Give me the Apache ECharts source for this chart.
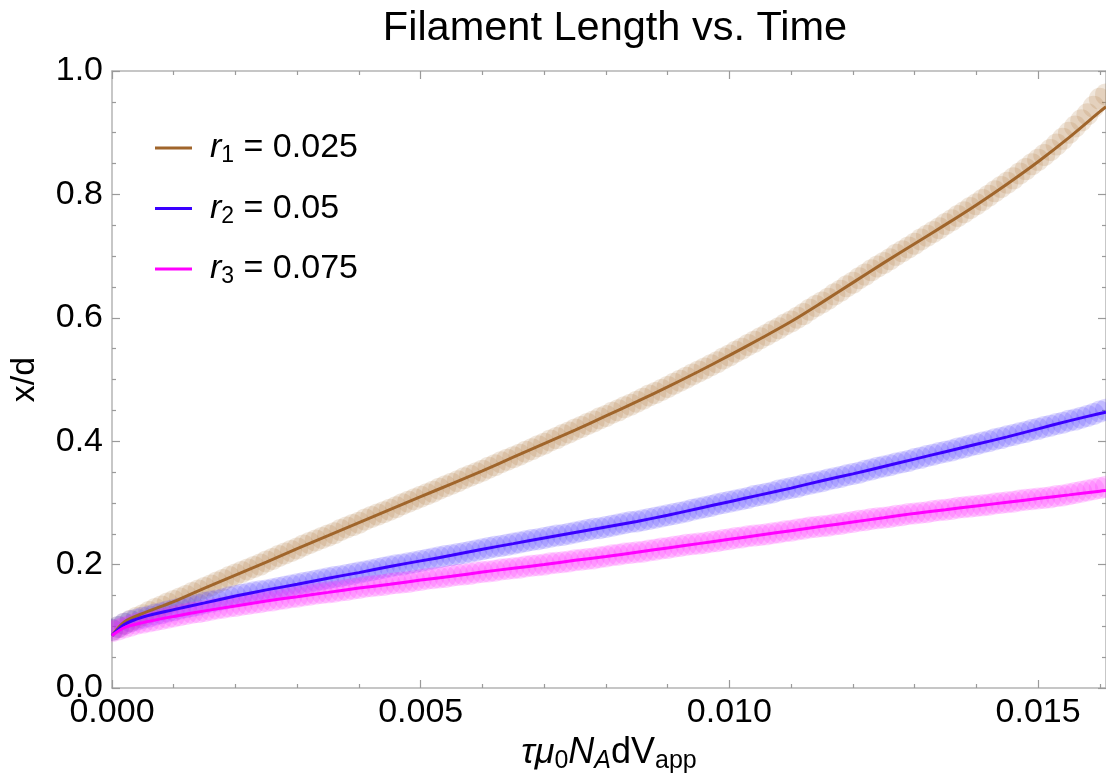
<!DOCTYPE html>
<html>
<head>
<meta charset="utf-8">
<title>Filament Length vs. Time</title>
<script src="https://cdn.jsdelivr.net/npm/echarts@6/dist/echarts.min.js"></script>
<style>
  html, body { margin: 0; padding: 0; background: #fff; }
  #chart { width: 1106px; height: 780px; }
</style>
</head>
<body>
<div id="chart"></div>
<script>
// Sampling step of the measured points (dimensionless time)
const sampleStep = 0.0001;

// Measured filament length x/d for each radius (one value per sample, 10 per row)
const r1Points = [
  0.094, 0.099, 0.104, 0.109, 0.114, 0.118, 0.123, 0.128, 0.132, 0.137,
  0.141, 0.145, 0.149, 0.154, 0.158, 0.162, 0.166, 0.171, 0.175, 0.180,
  0.184, 0.188, 0.192, 0.196, 0.200, 0.205, 0.209, 0.214, 0.218, 0.222,
  0.226, 0.231, 0.235, 0.239, 0.243, 0.247, 0.251, 0.256, 0.260, 0.264,
  0.268, 0.273, 0.277, 0.281, 0.285, 0.289, 0.293, 0.298, 0.302, 0.306,
  0.310, 0.314, 0.318, 0.323, 0.327, 0.331, 0.335, 0.340, 0.344, 0.348,
  0.352, 0.357, 0.361, 0.366, 0.370, 0.374, 0.378, 0.383, 0.387, 0.392,
  0.396, 0.401, 0.405, 0.410, 0.414, 0.419, 0.423, 0.428, 0.432, 0.437,
  0.441, 0.446, 0.450, 0.455, 0.459, 0.464, 0.469, 0.474, 0.478, 0.483,
  0.488, 0.493, 0.498, 0.503, 0.508, 0.513, 0.518, 0.523, 0.528, 0.534,
  0.539, 0.545, 0.550, 0.556, 0.561, 0.567, 0.572, 0.578, 0.583, 0.589,
  0.594, 0.600, 0.606, 0.613, 0.619, 0.625, 0.631, 0.638, 0.644, 0.651,
  0.657, 0.664, 0.670, 0.677, 0.683, 0.689, 0.695, 0.702, 0.708, 0.714,
  0.720, 0.727, 0.733, 0.739, 0.745, 0.752, 0.758, 0.765, 0.771, 0.778,
  0.784, 0.791, 0.798, 0.805, 0.812, 0.819, 0.826, 0.834, 0.841, 0.849,
  0.856, 0.864, 0.872, 0.881, 0.890, 0.900, 0.910, 0.920, 0.930, 0.942,
  0.955, 0.962
];
const r2Points = [
  0.094, 0.099, 0.104, 0.108, 0.111, 0.114, 0.116, 0.119, 0.121, 0.124,
  0.126, 0.129, 0.131, 0.133, 0.135, 0.138, 0.140, 0.142, 0.144, 0.147,
  0.149, 0.151, 0.153, 0.155, 0.157, 0.158, 0.160, 0.162, 0.164, 0.166,
  0.168, 0.170, 0.172, 0.174, 0.176, 0.178, 0.180, 0.181, 0.183, 0.185,
  0.187, 0.189, 0.191, 0.193, 0.195, 0.197, 0.199, 0.200, 0.202, 0.204,
  0.206, 0.208, 0.210, 0.212, 0.214, 0.215, 0.217, 0.219, 0.221, 0.223,
  0.225, 0.227, 0.229, 0.230, 0.232, 0.234, 0.236, 0.238, 0.240, 0.241,
  0.243, 0.245, 0.247, 0.248, 0.250, 0.252, 0.254, 0.256, 0.258, 0.259,
  0.261, 0.263, 0.265, 0.267, 0.269, 0.270, 0.272, 0.274, 0.276, 0.278,
  0.280, 0.282, 0.284, 0.286, 0.289, 0.291, 0.293, 0.295, 0.298, 0.300,
  0.302, 0.304, 0.306, 0.308, 0.311, 0.313, 0.315, 0.317, 0.320, 0.322,
  0.324, 0.326, 0.329, 0.331, 0.333, 0.335, 0.338, 0.340, 0.342, 0.345,
  0.347, 0.349, 0.352, 0.354, 0.357, 0.359, 0.361, 0.364, 0.366, 0.368,
  0.371, 0.373, 0.376, 0.378, 0.381, 0.383, 0.385, 0.388, 0.390, 0.393,
  0.395, 0.398, 0.400, 0.403, 0.405, 0.408, 0.410, 0.413, 0.415, 0.418,
  0.420, 0.423, 0.425, 0.428, 0.430, 0.433, 0.435, 0.438, 0.441, 0.444,
  0.448, 0.451
];
const r3Points = [
  0.092, 0.095, 0.098, 0.101, 0.104, 0.106, 0.108, 0.110, 0.112, 0.114,
  0.116, 0.118, 0.120, 0.122, 0.123, 0.125, 0.127, 0.129, 0.130, 0.132,
  0.133, 0.135, 0.136, 0.138, 0.139, 0.141, 0.142, 0.144, 0.145, 0.147,
  0.148, 0.150, 0.151, 0.153, 0.154, 0.155, 0.156, 0.158, 0.159, 0.161,
  0.162, 0.164, 0.165, 0.166, 0.167, 0.169, 0.170, 0.171, 0.172, 0.174,
  0.175, 0.177, 0.178, 0.179, 0.180, 0.182, 0.183, 0.184, 0.185, 0.187,
  0.188, 0.189, 0.190, 0.192, 0.193, 0.194, 0.195, 0.197, 0.198, 0.199,
  0.200, 0.202, 0.203, 0.204, 0.205, 0.207, 0.208, 0.209, 0.210, 0.212,
  0.213, 0.215, 0.216, 0.218, 0.219, 0.220, 0.221, 0.223, 0.224, 0.226,
  0.227, 0.229, 0.230, 0.232, 0.233, 0.234, 0.235, 0.237, 0.238, 0.240,
  0.241, 0.243, 0.244, 0.246, 0.247, 0.248, 0.249, 0.251, 0.252, 0.254,
  0.255, 0.257, 0.258, 0.260, 0.261, 0.262, 0.263, 0.265, 0.266, 0.268,
  0.269, 0.271, 0.272, 0.274, 0.275, 0.276, 0.277, 0.279, 0.280, 0.282,
  0.283, 0.284, 0.285, 0.287, 0.288, 0.289, 0.290, 0.292, 0.293, 0.294,
  0.295, 0.296, 0.297, 0.299, 0.300, 0.301, 0.302, 0.304, 0.305, 0.306,
  0.307, 0.308, 0.309, 0.311, 0.312, 0.314, 0.316, 0.318, 0.320, 0.322,
  0.324, 0.326
];

// Model curves, evaluated at these times
const curveTimes = [
  0, 0.0002, 0.0005, 0.001, 0.0015, 0.002, 0.0025, 0.003, 0.0035, 0.004,
  0.0045, 0.005, 0.0055, 0.006, 0.0065, 0.007, 0.0075, 0.008, 0.0085, 0.009,
  0.0095, 0.010, 0.0105, 0.011, 0.0115, 0.012, 0.0125, 0.013, 0.0135, 0.014,
  0.0145, 0.015, 0.0155, 0.016, 0.0161
];
const r1Curve = [
  0.085, 0.107, 0.121, 0.140, 0.162, 0.183, 0.204, 0.226, 0.247, 0.268,
  0.289, 0.310, 0.331, 0.352, 0.374, 0.396, 0.418, 0.441, 0.464, 0.488,
  0.513, 0.539, 0.566, 0.594, 0.625, 0.657, 0.689, 0.720, 0.751, 0.783,
  0.817, 0.853, 0.892, 0.934, 0.942
];
const r2Curve = [
  0.085, 0.103, 0.115, 0.127, 0.138, 0.149, 0.159, 0.168, 0.178, 0.187,
  0.197, 0.206, 0.215, 0.225, 0.234, 0.243, 0.252, 0.261, 0.270, 0.280,
  0.291, 0.302, 0.313, 0.324, 0.336, 0.347, 0.359, 0.371, 0.383, 0.395,
  0.407, 0.420, 0.433, 0.445, 0.447
];
const r3Curve = [
  0.085, 0.098, 0.106, 0.116, 0.125, 0.133, 0.141, 0.148, 0.155, 0.162,
  0.168, 0.175, 0.181, 0.188, 0.194, 0.200, 0.207, 0.213, 0.220, 0.227,
  0.234, 0.241, 0.248, 0.255, 0.262, 0.269, 0.276, 0.283, 0.289, 0.295,
  0.301, 0.307, 0.313, 0.319, 0.320
];

// Legend entries
const seriesKeys = ['r1', 'r2', 'r3'];
const legendSubscripts = ['1', '2', '3'];
const legendValues = ['0.025', '0.05', '0.075'];

// Axis ticks
const xMajorTicks = [0, 0.005, 0.010, 0.015];
const xMinorTicks = [0.001, 0.002, 0.003, 0.004, 0.006, 0.007, 0.008, 0.009,
                     0.011, 0.012, 0.013, 0.014, 0.016];
const yMajorTicks = [0, 0.2, 0.4, 0.6, 0.8, 1.0];
const yMinorTicks = [0.05, 0.1, 0.15, 0.25, 0.3, 0.35, 0.45, 0.5, 0.55,
                     0.65, 0.7, 0.75, 0.85, 0.9, 0.95];

const lineColors = ['#a0652b', '#3a00ff', '#ff00ff'];
const pointColors = ['#b07a42', '#4a36ff', '#ff1aff'];

const FONT = "'Liberation Sans', Arial, Helvetica, sans-serif";
const X_MAX = 0.0161;
const FRAME = '#b4b4b4';
const TICK = '#9a9a9a';
const POINT_RADIUS = 11;

function pairs(times, values) {
  return values.map((v, i) => [times[i], v]);
}
function sampled(values) {
  return values.map((v, i) => [+(i * sampleStep).toFixed(4), v]);
}

function xAxisDef(position, major, showLabels) {
  return {
    type: 'value', position: position, min: 0, max: X_MAX,
    axisLine: { show: major, onZero: false, lineStyle: { color: FRAME, width: 1.5 } },
    axisTick: {
      show: true, inside: true, length: major ? 8 : 4,
      customValues: major ? xMajorTicks : xMinorTicks,
      lineStyle: { color: TICK, width: 1.2 }
    },
    axisLabel: showLabels ? {
      show: true, customValues: xMajorTicks, margin: 8,
      formatter: v => v.toFixed(3),
      fontFamily: FONT, fontSize: 34, color: '#000'
    } : { show: false },
    splitLine: { show: false }
  };
}
function yAxisDef(position, major, showLabels) {
  return {
    type: 'value', position: position, min: 0, max: 1,
    axisLine: { show: major, onZero: false, lineStyle: { color: FRAME, width: 1.5 } },
    axisTick: {
      show: true, inside: true, length: major ? 8 : 4,
      customValues: major ? yMajorTicks : yMinorTicks,
      lineStyle: { color: TICK, width: 1.2 }
    },
    axisLabel: showLabels ? {
      show: true, customValues: yMajorTicks, margin: 9,
      formatter: v => v.toFixed(1),
      fontFamily: FONT, fontSize: 34, color: '#000'
    } : { show: false },
    splitLine: { show: false }
  };
}

const xAxes = [
  xAxisDef('bottom', true, true),
  xAxisDef('bottom', false, false),
  xAxisDef('top', true, false),
  xAxisDef('top', false, false)
];
Object.assign(xAxes[0], {
  name: '{it|τμ}{sub|0}{it|N}{subit|A}{rm|dV}{sub|app}',
  nameLocation: 'middle', nameGap: 36,
  nameTextStyle: {
    color: '#000', fontFamily: FONT, fontSize: 36,
    rich: {
      it: { fontFamily: FONT, fontSize: 36, fontStyle: 'italic', color: '#000' },
      rm: { fontFamily: FONT, fontSize: 36, color: '#000' },
      sub: { fontFamily: FONT, fontSize: 25, color: '#000', padding: [16, 0, 0, 0] },
      subit: { fontFamily: FONT, fontSize: 25, fontStyle: 'italic', color: '#000', padding: [16, 0, 0, 0] }
    }
  }
});

const yAxes = [
  yAxisDef('left', true, true),
  yAxisDef('left', false, false),
  yAxisDef('right', true, false),
  yAxisDef('right', false, false)
];
Object.assign(yAxes[0], {
  name: 'x/d', nameLocation: 'middle', nameGap: 70, nameRotate: 90,
  nameTextStyle: { color: '#000', fontFamily: FONT, fontSize: 34 }
});

const curves = [r1Curve, r2Curve, r3Curve];
const points = [r1Points, r2Points, r3Points];

const series = [];
// Measured points: translucent discs, clipped to the plot frame
points.forEach((vals, k) => {
  series.push({
    name: seriesKeys[k] + ' data', type: 'custom',
    data: sampled(vals), clip: true, silent: true, z: 2,
    renderItem: (params, api) => {
      const p = api.coord([api.value(0), api.value(1)]);
      return {
        type: 'circle',
        shape: { cx: p[0], cy: p[1], r: POINT_RADIUS },
        style: { fill: pointColors[k], opacity: 0.19 }
      };
    }
  });
});
// Model curves
curves.forEach((vals, k) => {
  series.push({
    name: seriesKeys[k], type: 'line',
    data: pairs(curveTimes, vals), smooth: 0.3,
    showSymbol: false, symbol: 'none',
    lineStyle: { color: lineColors[k], width: 3 },
    itemStyle: { color: lineColors[k] },
    silent: true, z: 3
  });
});

const chart = echarts.init(document.getElementById('chart'), null, { renderer: 'canvas' });
chart.setOption({
  animation: false,
  backgroundColor: '#fff',
  title: {
    text: 'Filament Length vs. Time',
    left: 610, top: 3, textAlign: 'center',
    textStyle: { fontFamily: FONT, fontSize: 41.5, fontWeight: 'normal', color: '#000' }
  },
  grid: { left: 110, top: 71, width: 997, height: 617, containLabel: false },
  legend: {
    data: seriesKeys, orient: 'vertical', left: 155, top: 131, padding: 0,
    itemWidth: 37, itemHeight: 3, itemGap: 24, icon: 'rect',
    selectedMode: false,
    formatter: name => {
      const k = seriesKeys.indexOf(name);
      return '{r|r}{s|' + legendSubscripts[k] + '}{v| = ' + legendValues[k] + '}';
    },
    textStyle: {
      color: '#000', fontFamily: FONT, fontSize: 34,
      rich: {
        r: { fontFamily: FONT, fontSize: 34, fontStyle: 'italic', color: '#000', padding: [0, 0, 0, 13], lineHeight: 40 },
        s: { fontFamily: FONT, fontSize: 23, color: '#000', padding: [16, 0, 0, 0] },
        v: { fontFamily: FONT, fontSize: 34, color: '#000' }
      }
    }
  },
  xAxis: xAxes,
  yAxis: yAxes,
  series: series
});
</script>
</body>
</html>
